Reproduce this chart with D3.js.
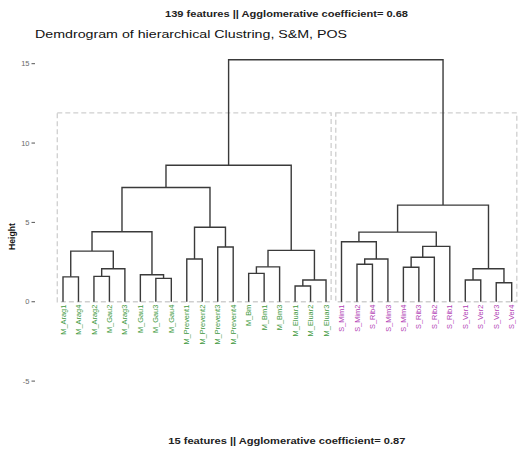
<!DOCTYPE html>
<html><head><meta charset="utf-8">
<script src="https://cdn.jsdelivr.net/npm/d3@7"></script>
<style>body{margin:0;background:#fff}svg{display:block}</style>
</head><body>
<script>
const leafLabels = ["M_Arag1","M_Arag4","M_Arag2","M_Gau2","M_Arag3","M_Gau1","M_Gau3","M_Gau4",
 "M_Prevent1","M_Prevent2","M_Prevent3","M_Prevent4","M_Bm","M_Bm1","M_Bm3","M_Eluar1","M_Eluar2","M_Eluar3",
 "S_Mim1","S_Mim2","S_Rib4","S_Mim3","S_Mim4","S_Rib3","S_Rib2","S_Rib1","S_Ver1","S_Ver2","S_Ver3","S_Ver4"];
const leafGroup = leafLabels.map(l => l[0]);
// hclust-style merges: negative = leaf (1-based), positive = earlier merge (1-based)
const mergeLeft  = [-16,-29,-27, 1,-7,-1,-3,-6,-13, 7, 3,-23, 9,-20,-9,14,12, 6,13,-11,17,-19,18,22,15,24,23,27,28];
const mergeRight = [-17,-30,-28,-18,-8,-2,-4, 5,-14,-5, 2,-24,-15,-21,-10,-22,-25,10, 4,-12,-26,16, 8,21,20,11,25,19,26];
const mergeHeight= [0.99,1.2,1.37,1.37,1.47,1.57,1.6,1.7,1.79,2.08,2.08,2.17,2.2,2.36,2.69,2.69,2.8,3.19,3.24,3.45,3.49,3.78,4.41,4.39,4.69,6.09,7.2,8.6,15.25];
const yTicks = [-5,0,5,10,15];
const clusterBoxes = [{from:"M_Arag1", to:"M_Eluar3", h:11.9},{from:"S_Mim1", to:"S_Ver4", h:11.9}];
const groupColor = {M:"#3f9a3f", S:"#b23fb5"};

const W=521,H=451;
const FONT="Liberation Sans, Arial, sans-serif";
const svg=d3.select("body").append("svg").attr("width",W).attr("height",H);
const x=d3.scalePoint().domain(leafLabels).range([63,511.7]);
const y=d3.scaleLinear().domain([-5,15]).range([381.1,63.7]);

const nodes=[];
function pos(ref){
  if(ref<0){return {x:x(leafLabels[-ref-1]), h:0};}
  return nodes[ref-1];
}
mergeLeft.forEach((l,i)=>{
  const a=pos(l), b=pos(mergeRight[i]), h=mergeHeight[i];
  nodes.push({x:(a.x+b.x)/2,h:h,a:a,b:b});
});

// cluster boxes
const gBox=svg.append("g");
clusterBoxes.forEach(c=>{
  const step=x.step();
  const x0=x(c.from)-step*0.37, x1=x(c.to)+step*0.33;
  gBox.append("rect").attr("x",x0).attr("y",y(c.h)).attr("width",x1-x0).attr("height",y(0)-y(c.h))
   .attr("fill","none").attr("stroke","#cfcfcf").attr("stroke-width",1.3).attr("stroke-dasharray","5,3");
});

// dendrogram segments
const gTree=svg.append("g").attr("stroke","#3a3a3a").attr("stroke-width",1.4).attr("fill","none");
nodes.forEach(n=>{
  const p=d3.path();
  p.moveTo(n.a.x,y(n.a.h)); p.lineTo(n.a.x,y(n.h)); p.lineTo(n.b.x,y(n.h)); p.lineTo(n.b.x,y(n.b.h));
  gTree.append("path").attr("d",p.toString());
});

// leaf labels
svg.append("g").selectAll("text").data(leafLabels).join("text")
  .attr("transform",d=>`translate(${x(d)},${y(0)+3}) rotate(-90)`)
  .attr("text-anchor","end").attr("dy","0.35em")
  .attr("font-family",FONT).attr("font-size",7.4)
  .attr("fill",(d,i)=>groupColor[leafGroup[i]]).text(d=>d);

// y axis ticks
const gAx=svg.append("g").attr("font-family",FONT);
yTicks.forEach(t=>{
  gAx.append("line").attr("x1",31.5).attr("x2",35).attr("y1",y(t)).attr("y2",y(t)).attr("stroke","#555").attr("stroke-width",1);
  gAx.append("text").attr("x",29.5).attr("y",y(t)).attr("dy","0.35em").attr("text-anchor","end")
    .attr("font-size",7.5).attr("fill","#6a6a6a").text(t);
});
svg.append("text").attr("transform",`translate(14.5,${236.5}) rotate(-90)`).attr("text-anchor","middle")
  .attr("font-family",FONT).attr("font-size",9.5).attr("font-weight","bold").attr("fill","#111")
  .attr("textLength",27).attr("lengthAdjust","spacingAndGlyphs").text("Height");

// titles
svg.append("text").attr("x",165).attr("y",17)
  .attr("font-family",FONT).attr("font-size",8.8).attr("font-weight","bold").attr("fill","#222")
  .attr("textLength",243).attr("lengthAdjust","spacingAndGlyphs")
  .text("139 features || Agglomerative coefficient= 0.68");
svg.append("text").attr("x",35).attr("y",37.5)
  .attr("font-family",FONT).attr("font-size",11.8).attr("fill","#111")
  .attr("textLength",312).attr("lengthAdjust","spacingAndGlyphs")
  .text("Demdrogram of hierarchical Clustring, S&M, POS");
svg.append("text").attr("x",168.3).attr("y",443.5)
  .attr("font-family",FONT).attr("font-size",8.6).attr("font-weight","bold").attr("fill","#222")
  .attr("textLength",237).attr("lengthAdjust","spacingAndGlyphs")
  .text("15 features || Agglomerative coefficient= 0.87");
</script>
</body></html>
